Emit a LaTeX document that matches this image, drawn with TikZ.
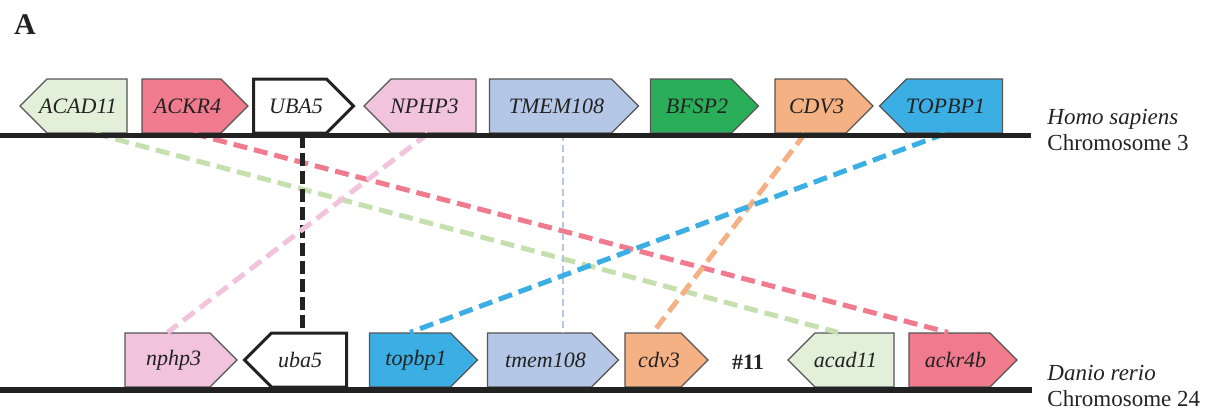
\documentclass[tikz,border=0pt]{standalone}
\usepackage{fontspec}
\setmainfont{Liberation Serif}
\usetikzlibrary{shapes.symbols,positioning}
\definecolor{ink}{HTML}{222222}
\definecolor{edge}{HTML}{555555}
\definecolor{acadC}{HTML}{E2EFD9}
\definecolor{acadL}{HTML}{C5DFAF}
\definecolor{ackrC}{HTML}{F07A8E}
\definecolor{nphpC}{HTML}{F1C3DC}
\definecolor{tmemC}{HTML}{B4C7E7}
\definecolor{bfspC}{HTML}{2BAE5A}
\definecolor{cdvC}{HTML}{F4B183}
\definecolor{topbpC}{HTML}{3BAEE3}
\tikzset{
  gene/.style={shape=signal, draw=edge, line width=0.6pt, inner xsep=0pt, inner ysep=1pt,
    minimum height=27pt, font=\fontsize{11}{13}\selectfont\itshape, text=ink},
  fwd/.style={gene, signal to=east,
    execute at begin node={\kern3pt}, execute at end node={\kern-3pt}},
  rev/.style={gene, signal to=west,
    execute at begin node={\kern-4.5pt}, execute at end node={\kern4.5pt}},
  ubabox/.style={draw=ink, line width=1.5pt, fill=white},
  link/.style={dash pattern=on 7pt off 3.5pt, line width=2.5pt},
  thinlink/.style={dash pattern=on 3.5pt off 2pt, line width=1pt},
  chrom/.style={line width=2.8pt, draw=ink},
  species/.style={anchor=west, align=left, inner sep=0pt, text=ink,
    font=\fontsize{11.5}{13}\selectfont}
}
\begin{document}
\begin{tikzpicture}[x=0.5pt, y=-0.5pt]
    \useasboundingbox (0,0) rectangle (1214,414);
    \node[font=\fontsize{15}{18}\selectfont\bfseries, text=ink] (panel) at (25,25) {A};
    \node[rev, fill=acadC, minimum width=53.5pt] (ACAD11) at (87,106) {ACAD11};
    \node[fwd, fill=ackrC, minimum width=53pt] (ACKR4) at (181.5,106) {ACKR4};
    \node[fwd, ubabox, minimum width=50pt] (UBA5) at (290,106) {UBA5};
    \node[rev, fill=nphpC, minimum width=56pt] (NPHP3) at (433.5,106) {NPHP3};
    \node[fwd, fill=tmemC, minimum width=74.5pt] (TMEM108) at (550.5,106) {TMEM108};
    \node[fwd, fill=bfspC, minimum width=54pt] (BFSP2) at (691,106) {BFSP2};
    \node[fwd, fill=cdvC, minimum width=49pt] (CDV3) at (810.5,106) {CDV3};
    \node[rev, fill=topbpC, minimum width=61.5pt] (TOPBP1) at (954.5,106) {TOPBP1};
    \node[fwd, fill=nphpC, minimum width=56pt] (nphp3) at (167.5,360) {nphp3};
    \node[rev, ubabox, minimum width=51pt] (uba5) at (309,360) {uba5};
    \node[fwd, fill=topbpC, minimum width=54pt] (topbp1) at (410,360) {topbp1};
    \node[fwd, fill=tmemC, minimum width=65.5pt] (tmem108) at (539.5,360) {tmem108};
    \node[fwd, fill=cdvC, minimum width=41.5pt] (cdv3) at (653,360) {cdv3};
    \node[font=\fontsize{11}{13}\selectfont\bfseries, text=ink] (gap) at (748,362) {\#11};
    \node[rev, fill=acadC, minimum width=53pt] (acad11) at (854.5,360) {acad11};
    \node[fwd, fill=ackrC, minimum width=54pt] (ackr4b) at (949.5,360) {ackr4b};
    \draw[link, draw=acadL] ([xshift=4pt]ACAD11.south) -- ([xshift=-8.25pt]acad11.north);
    \draw[link, draw=ackrC] ([xshift=5.75pt]ACKR4.south) -- ([xshift=-0.75pt]ackr4b.north);
    \draw[link, draw=ink, dash pattern=on 6.5pt off 2.5pt] ([xshift=6pt]UBA5.south) -- ([xshift=-3.5pt]uba5.north);
    \draw[link, draw=nphpC] ([xshift=-2.75pt]NPHP3.south) -- (nphp3.north);
    \draw[thinlink, draw=tmemC] ([xshift=6.25pt]TMEM108.south) -- ([xshift=11.75pt]tmem108.north);
    \draw[link, draw=cdvC] ([xshift=-2.75pt]CDV3.south) -- (cdv3.north);
    \draw[link, draw=topbpC] ([xshift=-4.75pt]TOPBP1.south) -- (topbp1.north);
    \draw[chrom] (0,135.5) -- (1031,135.5);
    \draw[chrom] (0,390) -- (1032,390);
    \node[species] (human) at (1047,130) {\textit{Homo sapiens}\\Chromosome 3};
    \node[species] (zebrafish) at (1047,385.5) {\textit{Danio rerio}\\Chromosome 24};
\end{tikzpicture}
\end{document}
